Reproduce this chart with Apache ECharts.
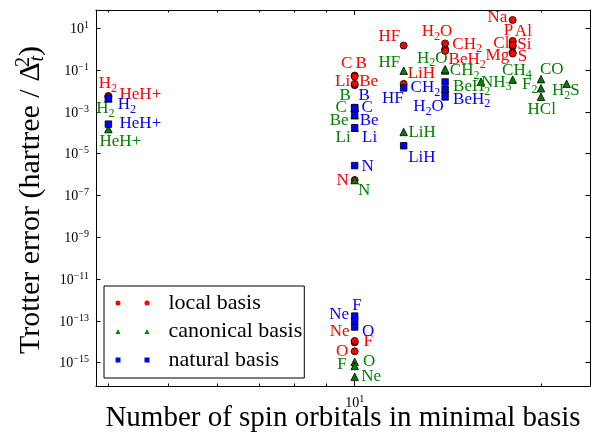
<!DOCTYPE html>
<html><head><meta charset="utf-8">
<script src="https://cdn.jsdelivr.net/npm/echarts@6/dist/echarts.min.js"></script>
<style>html,body{margin:0;padding:0;background:#fff}#c{width:592px;height:435px}</style>
</head><body><div id="c"></div>
<script>
// ---------- data ----------
const molecules = ['H2','HeH+','Li','Be','B','C','N','O','F','Ne','LiH','HF','CH2','H2O','BeH2','NH3','CH4','Na','Mg','Al','Si','P','S','Cl','CO','F2','HCl','H2S'];
const spinOrbitals = [4,4,10,10,10,10,10,10,10,10,12,12,14,14,14,16,18,18,18,18,18,18,18,18,20,20,20,22];
const localError = [5.8e-3,5.2e-3,1.9e-2,2.2e-2,5.5e-2,4.9e-2,5.5e-7,3.5e-15,9.3e-15,1.1e-14,2.2e-2,1.5,1.0,1.9,0.82,null,null,25,0.70,2.2,1.4,2.5,0.62,1.6,null,null,null,null];
const canonicalError = [4.4e-3,1.5e-4,1.75e-4,6.9e-4,1.6e-3,1.55e-3,5.5e-7,1.1e-15,7.0e-16,2.1e-16,1.1e-4,9.4e-2,9.6e-2,0.11,1.2e-2,2.8e-2,3.5e-2,null,null,null,null,null,null,null,3.7e-2,1.35e-2,5.3e-3,2.2e-2];
const naturalError = [4.4e-3,2.6e-4,1.75e-4,6.9e-4,1.6e-3,1.55e-3,2.7e-6,5.1e-14,1.7e-13,1.0e-13,2.4e-5,1.4e-2,2.7e-2,5.2e-3,1.2e-2,null,null,null,null,null,null,null,null,null,null,null,null,null];
const seriesNames = ['local basis','canonical basis','natural basis'];
const xMajorTicks = [10];
const xMinorTicks = [4,5,6,7,8,9,20];
const xTickLabels = [10];
const yTickExponents = [-15,-13,-11,-9,-7,-5,-3,-1,1];
const xRange = [3.82, 24];
const yExpRange = [-16.115, 1.876];
const xTitle = 'Number of spin orbitals in minimal basis';
const yTitle = '{n|Trotter error (hartree / \u0394}{sp|2}{sb|t}{n|)}';

// ---------- layout (label placement relative to marker, px) ----------
const labelOffsets = {
  local: {H2:[-0.5,-12],'HeH+':[32,-2],Li:[-12,-3.3],Be:[14,-2.3],B:[6.5,-12.5],C:[-8,-13.5],N:[-12,1],O:[-12.5,0],F:[13.5,-0.5],Ne:[-15,-9],
          LiH:[17.7,-10],HF:[-14.3,-8.7],CH2:[22,-5],H2O:[-8,-11.5],BeH2:[22,9],Na:[-15.3,-2.5],P:[-4.3,-10],Al:[10.7,-11],Cl:[-11.3,-1],Si:[11.7,-2],Mg:[-15.3,3.5],S:[9.7,2.5]},
  canonical: {H2:[-3,10.5],'HeH+':[12,12.7],Li:[-11.5,10.3],Be:[-15.5,5.7],B:[-9.5,-12.5],C:[-13.5,0],N:[9.5,11],O:[14.5,0],F:[-12.8,-1],Ne:[16.5,0],
          LiH:[18.4,0.8],HF:[-14.3,-8.2],CH2:[19.5,0.5],H2O:[-12.8,-10.8],BeH2:[26.5,-2.5],NH3:[15.3,0.6],CH4:[4.2,-8.8],CO:[10.7,-10],F2:[-11.2,-3.3],HCl:[0.7,12.3],H2S:[-0.7,7]},
  natural: {H2:[18.5,6.5],'HeH+':[32,-1],Li:[15,10.3],Be:[14.5,5.7],B:[9.5,-12.5],C:[12.5,0],N:[13,1],O:[13.5,5],F:[2.2,-11],Ne:[-15.5,-6.3],
          LiH:[18.2,11.8],HF:[-10.8,11],CH2:[-19.7,6],H2O:[-16.5,10],BeH2:[26.5,9.8]}
};

const FONT = 'Liberation Serif';
const colors = ['#ff0000','#008000','#0000ff'];
const symbols = ['circle','triangle','rect'];
const symbolSizes = [7,7.5,6.5];
const keys = ['local','canonical','natural'];
const errorsList = [localError, canonicalError, naturalError];
const legendIcons = [
  'path://M0,2.5A2.5,2.5,0,1,1,5,2.5A2.5,2.5,0,1,1,0,2.5Z M29,2.5A2.5,2.5,0,1,1,34,2.5A2.5,2.5,0,1,1,29,2.5Z',
  'path://M2.5,0L5,5L0,5Z M31.5,0L34,5L29,5Z',
  'path://M0,0L5,0L5,5L0,5Z M29,0L34,0L34,5L29,5Z'
];

function toRich(name) {
  return name.split(/(\d+)/).filter(Boolean)
    .map(t => /^\d+$/.test(t) ? '{s|' + t + '}' : '{b|' + t + '}').join('');
}
function supText(n) { return String(n).replace('-', '\u2212'); }

function buildData(errors, key) {
  const out = [];
  molecules.forEach((m, i) => {
    const v = errors[i];
    if (v == null) return;
    const off = labelOffsets[key][m] || [0, 0];
    const hasSub = /\d/.test(m);
    out.push({name: m, value: [spinOrbitals[i], v],
      label: {offset: [off[0], off[1] + (hasSub ? 1 : 0)]}});
  });
  return out;
}

const series = keys.map((k, si) => ({
  type: 'scatter', name: seriesNames[si], xAxisIndex: 0, yAxisIndex: 0,
  symbol: symbols[si], symbolSize: symbolSizes[si],
  itemStyle: {color: colors[si], borderColor: '#000', borderWidth: 0.8, opacity: 1},
  emphasis: {disabled: true},
  label: {
    show: true, position: 'inside', align: 'center', verticalAlign: 'middle',
    formatter: p => toRich(p.name), color: colors[si], textBorderWidth: 0,
    fontFamily: FONT, fontSize: 17,
    rich: {
      b: {fontFamily: FONT, fontSize: 17, lineHeight: 17, verticalAlign: 'top', color: colors[si]},
      s: {fontFamily: FONT, fontSize: 12, lineHeight: 19, verticalAlign: 'bottom', color: colors[si]}
    }
  },
  z: 2 + si,
  data: buildData(errorsList[si], k)
}));

const tickRich = {
  b: {fontFamily: FONT, fontSize: 14, lineHeight: 16, verticalAlign: 'bottom', color: '#000'},
  p: {fontFamily: FONT, fontSize: 10, lineHeight: 10, verticalAlign: 'top', color: '#000'}
};
const lx = xRange.map(Math.log10);
const lineStyle = {color: '#000', width: 1};

function xAxisValue(pos, ticks, len, withLine, extra) {
  return Object.assign({
    type: 'value', gridIndex: 0, min: lx[0], max: lx[1], position: pos,
    axisLine: {show: withLine, onZero: false, lineStyle},
    axisTick: {show: true, inside: true, length: len, customValues: ticks.map(Math.log10), lineStyle},
    axisLabel: {show: false}, splitLine: {show: false}, minorTick: {show: false}
  }, extra || {});
}
function yAxisValue(pos, withLabels, extra) {
  return Object.assign({
    type: 'value', gridIndex: 0, min: yExpRange[0], max: yExpRange[1], position: pos,
    axisLine: {show: true, onZero: false, lineStyle},
    axisTick: {show: true, inside: true, length: 4.5, customValues: yTickExponents, lineStyle},
    axisLabel: withLabels ? {show: true, customValues: yTickExponents, margin: 7,
      formatter: v => '{b|10}{p|' + supText(Math.round(v)) + '}', rich: tickRich} : {show: false},
    splitLine: {show: false}
  }, extra || {});
}

const option = {
  animation: false,
  backgroundColor: '#fff',
  grid: {left: 96, top: 10, right: 2, bottom: 49, containLabel: false, outerBoundsMode: 'none'},
  legend: {
    data: seriesNames.map((n, i) => ({name: n, icon: legendIcons[i]})),
    orient: 'vertical', left: 104, top: 286,
    itemWidth: 34, itemHeight: 5, itemGap: 6.5,
    padding: [6, 2, 7, 11.5],
    borderColor: '#000', borderWidth: 1, borderRadius: 0, backgroundColor: '#fff',
    selectedMode: false,
    itemStyle: {borderWidth: 0},
    textStyle: {fontFamily: FONT, fontSize: 22, lineHeight: 22, color: '#000', padding: [0, 0, 0, 14]}
  },
  graphic: [{
    type: 'text', x: 31, y: 200, rotation: Math.PI / 2, silent: true,
    style: {
      text: yTitle, align: 'center', verticalAlign: 'middle',
      rich: {
        n: {fontFamily: FONT, fontSize: 30, lineHeight: 34, verticalAlign: 'middle', fill: '#000', color: '#000'},
        sp: {fontFamily: FONT, fontSize: 20, lineHeight: 20, verticalAlign: 'top', width: 1, fill: '#000', color: '#000'},
        sb: {fontFamily: FONT, fontSize: 20, lineHeight: 20, verticalAlign: 'bottom', fontStyle: 'italic', fill: '#000', color: '#000'}
      }
    }
  }],
  xAxis: [
    {type: 'log', logBase: 10, gridIndex: 0, min: xRange[0], max: xRange[1], show: false},
    xAxisValue('bottom', xMajorTicks, 5, true, {
      axisLabel: {show: true, customValues: xTickLabels.map(Math.log10), margin: 8,
        formatter: v => '{b|10}{p|' + supText(Math.round(v)) + '}', rich: tickRich},
      name: xTitle, nameLocation: 'middle', nameGap: 18, nameMoveOverlap: false,
      nameTextStyle: {fontFamily: FONT, fontSize: 29, lineHeight: 29, color: '#000'}
    }),
    xAxisValue('bottom', xMinorTicks, 2.5, false),
    xAxisValue('top', xMajorTicks, 5, true),
    xAxisValue('top', xMinorTicks, 2.5, false)
  ],
  yAxis: [
    {type: 'log', logBase: 10, gridIndex: 0, min: Math.pow(10, yExpRange[0]), max: Math.pow(10, yExpRange[1]), show: false},
    yAxisValue('left', true),
    yAxisValue('right', false)
  ],
  series: series
};

const chart = echarts.init(document.getElementById('c'), null, {renderer: 'canvas'});
chart.setOption(option);
</script>
</body></html>
